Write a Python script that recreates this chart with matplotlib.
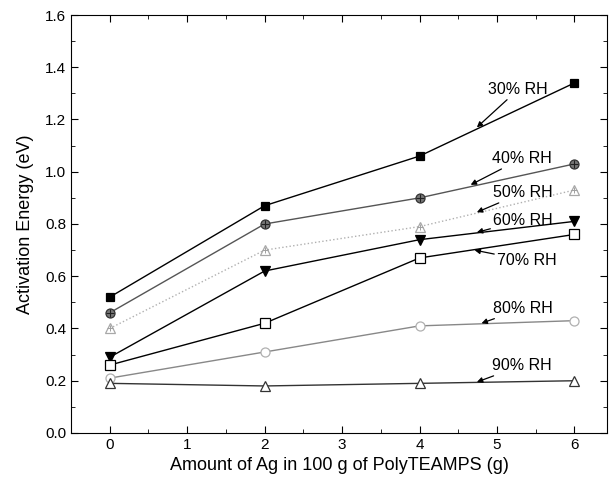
"""Activation energy vs. Ag loading in PolyTEAMPS at several relative humidities."""

import matplotlib.pyplot as plt
import matplotlib.ticker as ticker

plt.rcParams["font.family"] = ["Liberation Sans", "DejaVu Sans"]

ag_amount = [0, 2, 4, 6]

rh_labels = ["30% RH", "40% RH", "50% RH", "60% RH", "70% RH", "80% RH", "90% RH"]
ea_30 = [0.52, 0.87, 1.06, 1.34]
ea_40 = [0.46, 0.80, 0.90, 1.03]
ea_50 = [0.40, 0.70, 0.79, 0.93]
ea_60 = [0.29, 0.62, 0.74, 0.81]
ea_70 = [0.26, 0.42, 0.67, 0.76]
ea_80 = [0.21, 0.31, 0.41, 0.43]
ea_90 = [0.19, 0.18, 0.19, 0.20]

# label text position and arrow tip (data coords)
label_pos = [(4.89, 1.315), (4.93, 1.05), (4.95, 0.92), (4.95, 0.815),
             (5.0, 0.66), (4.95, 0.477), (4.93, 0.258)]
arrow_tip = [(4.74, 1.17), (4.66, 0.95), (4.74, 0.845), (4.74, 0.768),
             (4.71, 0.70), (4.80, 0.42), (4.74, 0.195)]

series = [ea_30, ea_40, ea_50, ea_60, ea_70, ea_80, ea_90]

# (marker, line colour, marker face, marker edge, linestyle, size)
styles = [
    ("s", "black", "black", "black", "-", 6),
    ("o", "#555555", "#777777", "#333333", "-", 6.5),
    ("^", "#b0b0b0", "white", "#a8a8a8", ":", 6.5),
    ("v", "black", "black", "black", "-", 7),
    ("s", "black", "white", "black", "-", 6.5),
    ("o", "#888888", "white", "#b0b0b0", "-", 6.5),
    ("^", "#333333", "white", "#333333", "-", 7.5),
]

fig = plt.figure(figsize=(6.14, 4.84), dpi=100)
ax = fig.add_axes([0.1156, 0.1054, 0.873, 0.8636])

for y, (mk, lc, mf, me, ls, ms) in zip(series, styles):
    ax.plot(ag_amount, y, color=lc, linestyle=ls, linewidth=1.0,
            marker=mk, markerfacecolor=mf, markeredgecolor=me,
            markersize=ms, markeredgewidth=0.9)

# crossed markers for the 40% and 50% series
ax.plot(ag_amount, ea_40, linestyle="none", marker="+", color="#222222",
        markersize=6, markeredgewidth=0.8)
ax.plot(ag_amount, ea_50, linestyle="none", marker="+", color="#a0a0a0",
        markersize=4, markeredgewidth=0.7)

for text, pos, tip in zip(rh_labels, label_pos, arrow_tip):
    ax.annotate(text, xy=tip, xytext=pos, fontsize=11.5, va="center", ha="left",
                arrowprops=dict(arrowstyle="-|>", color="black", lw=0.9,
                                shrinkA=0, shrinkB=0, mutation_scale=8))

ax.set_xlim(-0.5, 6.42)
ax.set_ylim(0, 1.6)
ax.xaxis.set_major_locator(ticker.MultipleLocator(1))
ax.xaxis.set_minor_locator(ticker.MultipleLocator(0.5))
ax.yaxis.set_major_locator(ticker.MultipleLocator(0.2))
ax.yaxis.set_minor_locator(ticker.MultipleLocator(0.1))
ax.yaxis.set_major_formatter(ticker.FormatStrFormatter("%.1f"))
ax.tick_params(which="both", direction="in", top=True, right=True, labelsize=11)
ax.tick_params(which="major", length=5)
ax.tick_params(which="minor", length=3)

ax.set_xlabel("Amount of Ag in 100 g of PolyTEAMPS (g)", fontsize=13, labelpad=4)
ax.set_ylabel("Activation Energy (eV)", fontsize=13, labelpad=8)

fig.savefig("out.png", dpi=100)
